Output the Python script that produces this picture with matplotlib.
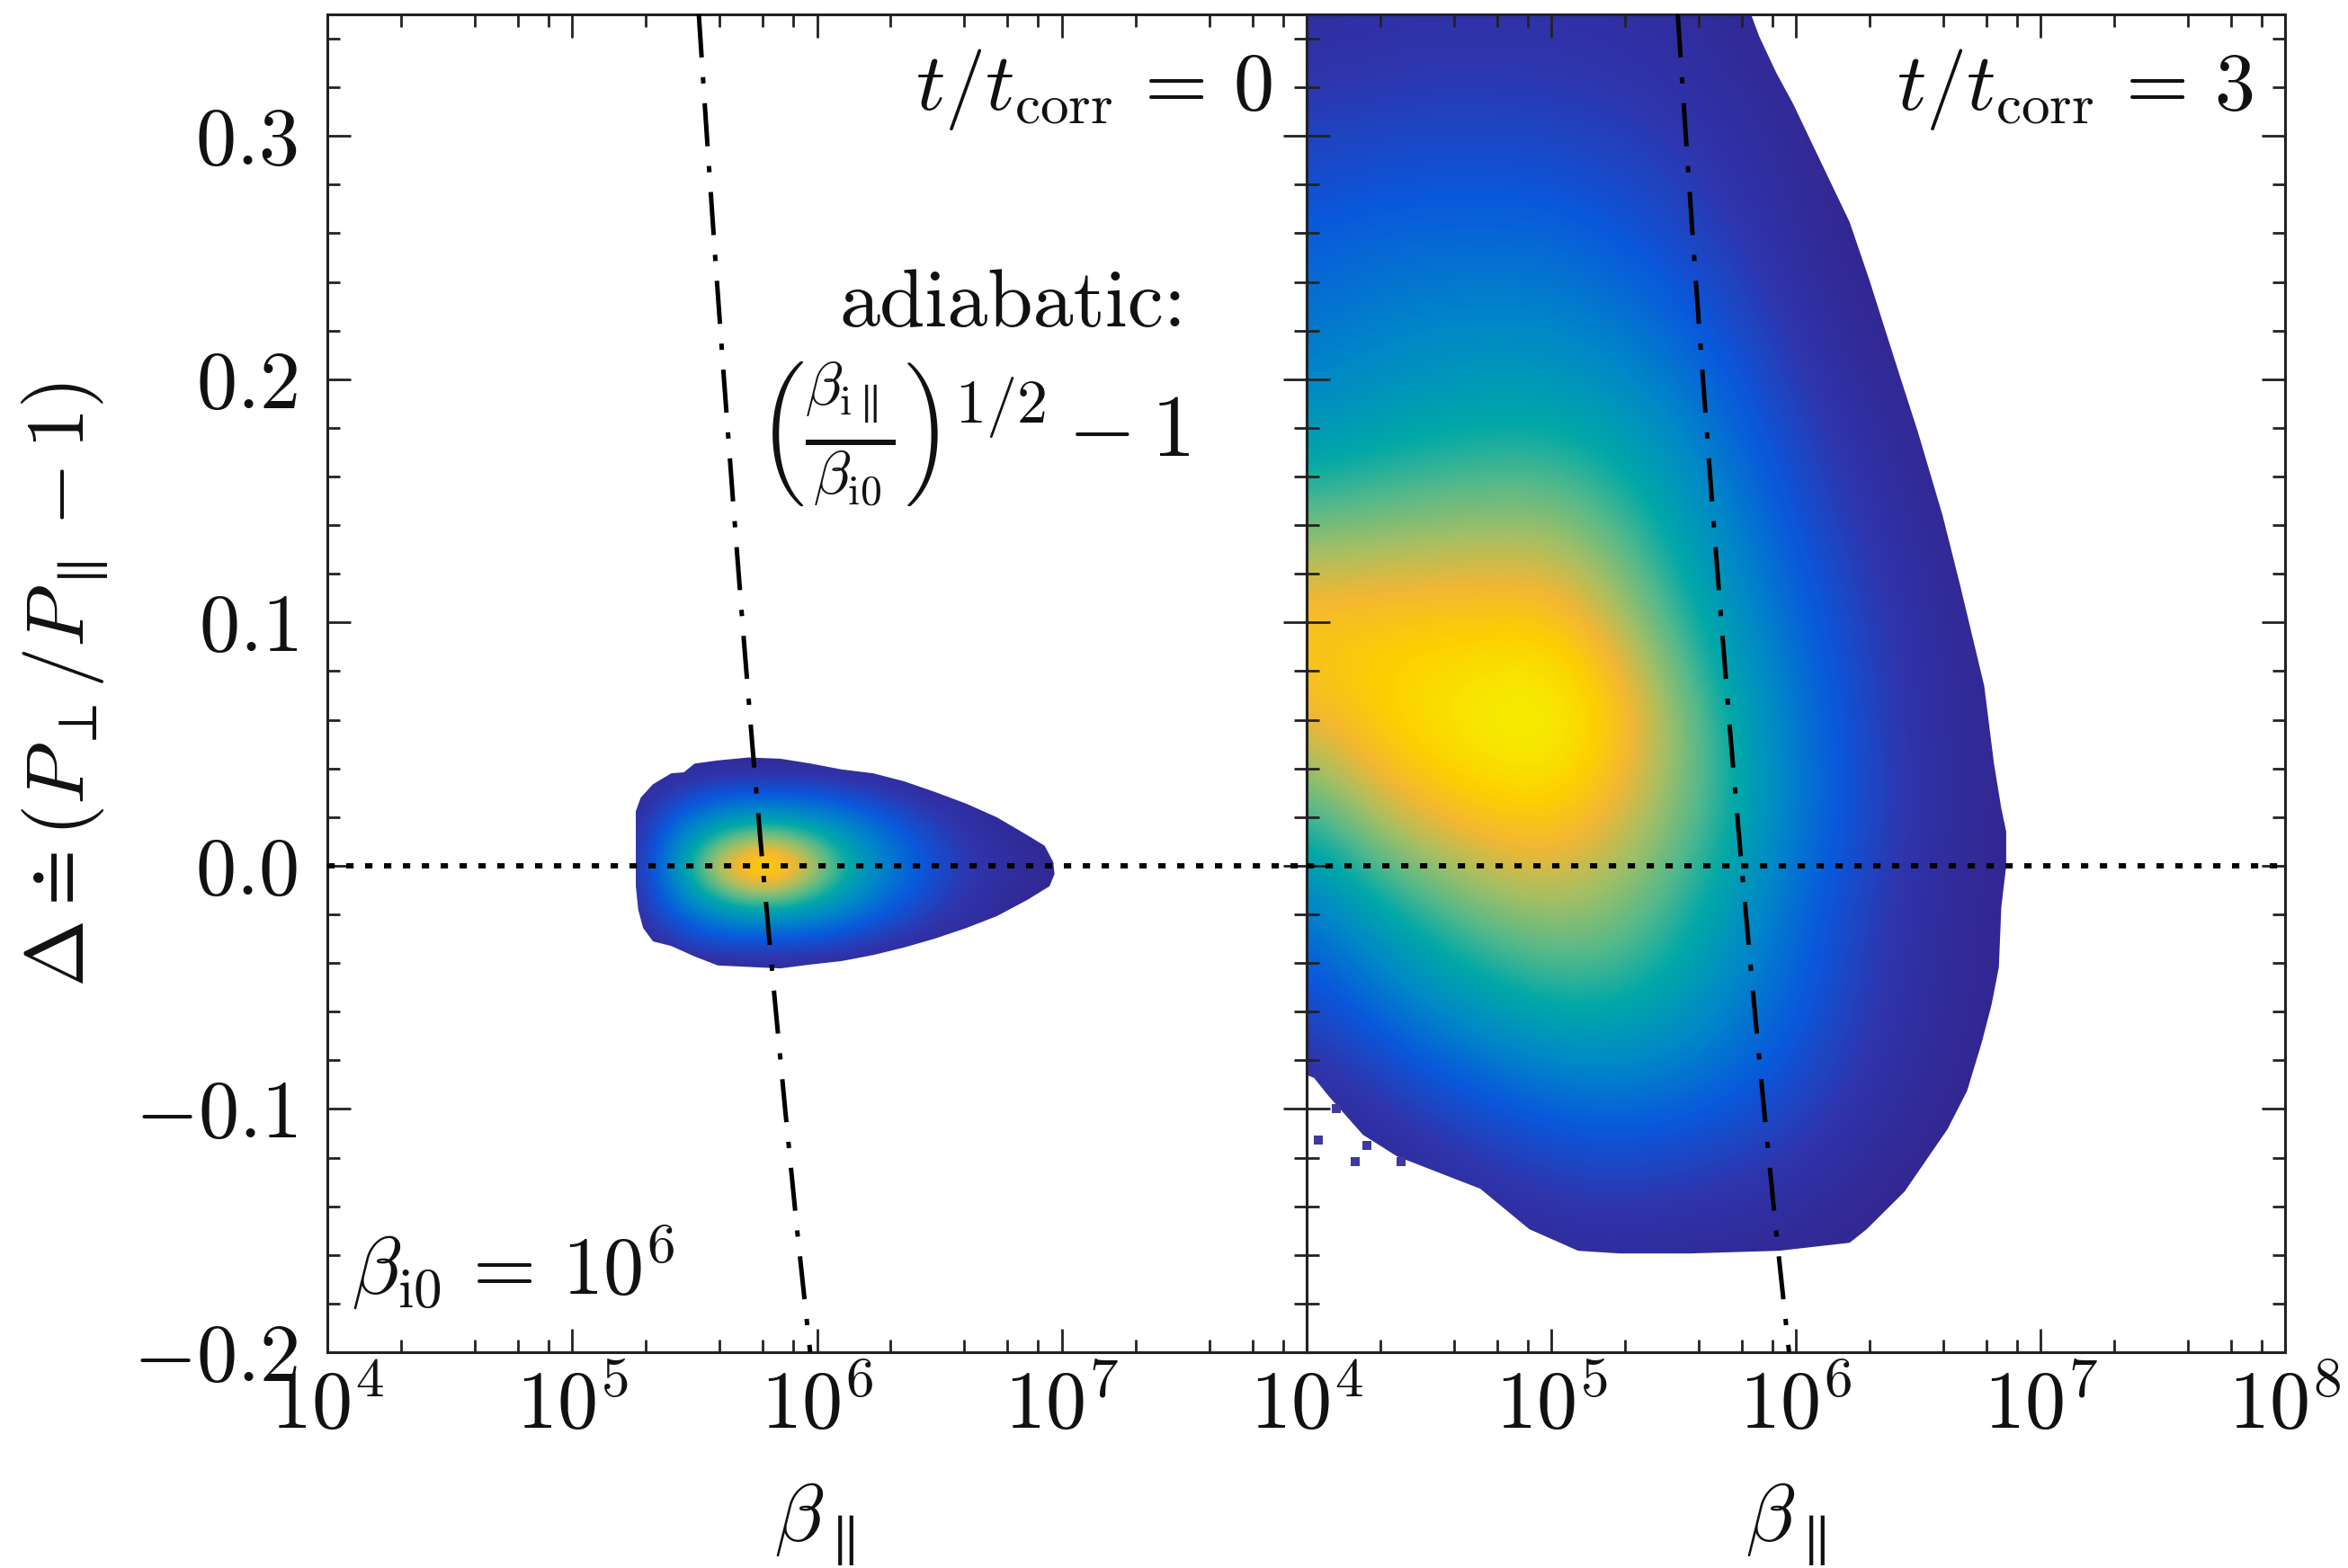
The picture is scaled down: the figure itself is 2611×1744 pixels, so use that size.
import numpy as np
import matplotlib
matplotlib.use('Agg')
import matplotlib.pyplot as plt
from matplotlib.colors import LinearSegmentedColormap
from matplotlib.patches import Polygon
from matplotlib.ticker import FixedLocator, NullFormatter

plt.rcParams['mathtext.fontset'] = 'cm'
plt.rcParams['font.family'] = ['cmr10', 'DejaVu Sans']
plt.rcParams['axes.formatter.use_mathtext'] = True

# density grid, left panel (t=0)
left_logbeta = [5.2, 5.4, 5.6, 5.8, 6.0, 6.2, 6.4, 6.6, 6.8, 7.0]
left_delta = [-0.05, -0.04, -0.03, -0.02, -0.01, 0.0, 0.01, 0.02, 0.03, 0.04, 0.05]
left_density = [
    [0.00, 0.00, 0.00, 0.00, 0.00, 0.00, 0.00, 0.00, 0.00, 0.00],
    [0.00, 0.05, 0.08, 0.08, 0.08, 0.05, 0.02, 0.00, 0.00, 0.00],
    [0.00, 0.14, 0.24, 0.25, 0.23, 0.17, 0.09, 0.04, 0.00, 0.00],
    [0.01, 0.25, 0.40, 0.45, 0.40, 0.30, 0.18, 0.09, 0.03, 0.00],
    [0.02, 0.32, 0.62, 0.78, 0.58, 0.38, 0.25, 0.12, 0.05, 0.00],
    [0.02, 0.36, 0.78, 1.00, 0.72, 0.42, 0.27, 0.14, 0.07, 0.02],
    [0.02, 0.32, 0.62, 0.78, 0.58, 0.38, 0.25, 0.12, 0.05, 0.00],
    [0.01, 0.25, 0.40, 0.45, 0.40, 0.30, 0.18, 0.09, 0.03, 0.00],
    [0.00, 0.14, 0.24, 0.25, 0.23, 0.17, 0.09, 0.04, 0.00, 0.00],
    [0.00, 0.05, 0.08, 0.08, 0.08, 0.05, 0.02, 0.00, 0.00, 0.00],
    [0.00, 0.00, 0.00, 0.00, 0.00, 0.00, 0.00, 0.00, 0.00, 0.00],
]

# outline of the populated region, left panel
left_edge_logbeta = [5.26, 5.26, 5.28, 5.33, 5.405, 5.456, 5.50, 5.595, 5.72, 5.85, 5.975, 6.10, 6.23,
                     6.356, 6.48, 6.61, 6.735, 6.86, 6.93, 6.965, 6.97, 6.95, 6.86, 6.735, 6.61, 6.48,
                     6.356, 6.23, 6.10, 5.975, 5.85, 5.72, 5.595, 5.50, 5.405, 5.33, 5.29, 5.27, 5.26]
left_edge_delta = [0.0, 0.0224, 0.028, 0.0335, 0.038, 0.0384, 0.042, 0.0433, 0.0445, 0.044, 0.042, 0.0396, 0.038,
                   0.0347, 0.0304, 0.0255, 0.0199, 0.0125, 0.0082, 0.0015, -0.0035, -0.0084, -0.014, -0.0207, -0.0256, -0.030,
                   -0.0336, -0.0367, -0.0392, -0.0406, -0.0422, -0.0416, -0.041, -0.0373, -0.033, -0.0311, -0.0256, -0.0182, -0.0084]

# density grid, right panel (t=3)
right_logbeta = [4.0, 4.25, 4.5, 4.75, 5.0, 5.25, 5.5, 5.75, 6.0, 6.25, 6.5, 6.75, 7.0]
right_delta = [-0.18, -0.14, -0.10, -0.06, -0.02, 0.02, 0.06, 0.10, 0.14, 0.18, 0.22, 0.26, 0.30, 0.34, 0.38]
right_density = [
    [0.00, 0.00, 0.00, 0.00, 0.00, 0.00, 0.00, 0.00, 0.00, 0.00, 0.00, 0.00, 0.00],
    [0.00, 0.00, 0.02, 0.06, 0.10, 0.12, 0.10, 0.08, 0.06, 0.02, 0.00, 0.00, 0.00],
    [0.03, 0.08, 0.16, 0.22, 0.27, 0.29, 0.28, 0.24, 0.18, 0.10, 0.04, 0.00, 0.00],
    [0.18, 0.27, 0.37, 0.44, 0.50, 0.50, 0.45, 0.36, 0.27, 0.16, 0.07, 0.02, 0.00],
    [0.32, 0.44, 0.55, 0.64, 0.68, 0.66, 0.56, 0.43, 0.30, 0.18, 0.08, 0.02, 0.00],
    [0.55, 0.70, 0.80, 0.85, 0.87, 0.78, 0.66, 0.52, 0.35, 0.22, 0.10, 0.03, 0.00],
    [0.80, 0.88, 0.94, 0.99, 1.00, 0.90, 0.70, 0.50, 0.34, 0.21, 0.09, 0.03, 0.00],
    [0.87, 0.87, 0.87, 0.87, 0.87, 0.75, 0.58, 0.42, 0.30, 0.18, 0.08, 0.02, 0.00],
    [0.63, 0.65, 0.67, 0.68, 0.68, 0.60, 0.48, 0.36, 0.24, 0.13, 0.05, 0.00, 0.00],
    [0.42, 0.45, 0.48, 0.50, 0.50, 0.46, 0.39, 0.29, 0.18, 0.08, 0.02, 0.00, 0.00],
    [0.33, 0.36, 0.38, 0.39, 0.38, 0.35, 0.29, 0.21, 0.11, 0.03, 0.00, 0.00, 0.00],
    [0.26, 0.28, 0.29, 0.29, 0.29, 0.25, 0.20, 0.13, 0.06, 0.00, 0.00, 0.00, 0.00],
    [0.17, 0.18, 0.19, 0.19, 0.18, 0.16, 0.13, 0.08, 0.04, 0.00, 0.00, 0.00, 0.00],
    [0.08, 0.09, 0.10, 0.10, 0.10, 0.09, 0.07, 0.04, 0.02, 0.00, 0.00, 0.00, 0.00],
    [0.06, 0.07, 0.08, 0.08, 0.08, 0.07, 0.05, 0.03, 0.01, 0.00, 0.00, 0.00, 0.00],
]

# outline, right panel
right_edge_logbeta = [3.9, 5.78, 5.85, 5.92, 5.99, 6.08, 6.22, 6.30, 6.42, 6.50, 6.60, 6.67, 6.77, 6.81, 6.84,
                      6.86, 6.86, 6.84, 6.83, 6.80, 6.76, 6.70, 6.62, 6.445, 6.29, 6.22, 5.93, 5.565, 5.28,
                      5.11, 4.91, 4.71, 4.37, 4.23, 4.09, 4.03, 4.0, 3.9]
right_edge_delta = [0.36, 0.36, 0.341, 0.326, 0.313, 0.294, 0.2646, 0.241, 0.203, 0.178, 0.144, 0.116, 0.074, 0.042, 0.0236,
                    0.014, 0.0, -0.017, -0.0417, -0.0572, -0.0727, -0.0926, -0.1083, -0.1339, -0.1494, -0.155, -0.1583, -0.1594, -0.1594,
                    -0.1583, -0.1494, -0.1328, -0.1195, -0.1106, -0.0947, -0.0872, -0.086, -0.086]

# stray cells under the lower left of the right panel
stray_logbeta = [4.046, 4.245, 4.197, 4.387, 4.12]
stray_delta = [-0.1128, -0.115, -0.1217, -0.1217, -0.1]

# adiabatic curve, beta read per delta
adiabatic_delta = [0.35, 0.30, 0.25, 0.20, 0.15, 0.10, 0.05, 0.0, -0.05, -0.10, -0.15, -0.20]
adiabatic_beta = [3.29e5, 3.55e5, 3.84e5, 4.17e5, 4.54e5, 4.96e5, 5.44e5, 6.0e5, 6.65e5, 7.41e5, 8.30e5, 9.38e5]

yticks = [-0.2, -0.1, 0.0, 0.1, 0.2, 0.3]
ytick_labels = ['$-0.2$', '$-0.1$', '$0.0$', '$0.1$', '$0.2$', '$0.3$']
xticks = [1e4, 1e5, 1e6, 1e7, 1e8]
xtick_labels = ['$10^{4}$', '$10^{5}$', '$10^{6}$', '$10^{7}$', '$10^{8}$']

parula = LinearSegmentedColormap.from_list('parula_like', [
    (0.00, '#33268f'), (0.12, '#2f35ad'), (0.25, '#0a58dc'), (0.38, '#0088c8'),
    (0.50, '#00a8a8'), (0.60, '#55b98a'), (0.70, '#a4bf64'), (0.80, '#f4b732'),
    (0.88, '#fdd000'), (0.97, '#f6f200'), (1.00, '#f6f200')])

W, H = 2611, 1744
FS = 65


def draw_density(rect, logbeta, delta, density, edge_x, edge_y):
    # image sits in its own axes, linear in log10(beta), under the log axes
    back = fig.add_axes(rect, zorder=0)
    back.axis('off')
    dx = (logbeta[1] - logbeta[0]) / 2
    dy = (delta[1] - delta[0]) / 2
    extent = (logbeta[0] - dx, logbeta[-1] + dx, delta[0] - dy, delta[-1] + dy)
    im = back.imshow(density, origin='lower', extent=extent, aspect='auto', cmap=parula, vmin=0, vmax=1,
                     interpolation='bicubic')
    edge = Polygon(np.column_stack([edge_x, edge_y]), closed=True, transform=back.transData, fc='none', ec='none')
    back.add_patch(edge)
    im.set_clip_path(edge)
    back.set_xlim(4, 8)
    back.set_ylim(-0.2, 0.35)


def style_axes(ax):
    ax.set_xscale('log')
    ax.set_xlim(1e4, 1e8)
    ax.set_ylim(-0.2, 0.35)
    ax.patch.set_alpha(0)
    ax.set_xticks(xticks)
    ax.set_xticklabels(xtick_labels, fontsize=FS)
    ax.xaxis.set_minor_locator(FixedLocator([m * 10 ** e for e in range(4, 8) for m in (2, 4, 6, 8)]))
    ax.xaxis.set_minor_formatter(NullFormatter())
    ax.set_yticks(yticks)
    ax.set_yticks(np.arange(-0.18, 0.35, 0.02), minor=True)
    ax.tick_params(which='major', direction='in', top=True, right=True, length=19, width=2.0, color='#222222',
                   labelcolor='#111111')
    ax.tick_params(which='minor', direction='in', top=True, right=True, length=10, width=2.0, color='#222222')
    ax.tick_params(axis='x', which='major', pad=14)
    ax.tick_params(axis='y', which='major', pad=24)
    for s in ax.spines.values():
        s.set_linewidth(2.2)
        s.set_color('#222222')
    ax.axhline(0, color='black', lw=4.2, dashes=(1.4, 2.2), zorder=3)
    ax.plot(adiabatic_beta, adiabatic_delta, color='black', lw=3.6, dashes=(9.6, 4.4, 1.4, 4.4), zorder=3)


fig = plt.figure(figsize=(W / 100, H / 100), dpi=100)
rect1 = [364 / W, 1 - 1504 / H, 1089 / W, 1488 / H]
rect2 = [1453 / W, 1 - 1504 / H, 1088 / W, 1488 / H]

draw_density(rect1, left_logbeta, left_delta, np.array(left_density), left_edge_logbeta, left_edge_delta)
draw_density(rect2, right_logbeta, right_delta, np.array(right_density), right_edge_logbeta, right_edge_delta)

ax1 = fig.add_axes(rect1, zorder=1)
ax2 = fig.add_axes(rect2, zorder=1)
style_axes(ax1)
style_axes(ax2)
ax2.scatter(10 ** np.array(stray_logbeta), stray_delta, s=45, marker='s', color='#3f38a0', lw=0, zorder=1)
ax1.set_yticklabels(ytick_labels, fontsize=FS)
ax2.tick_params(labelleft=False)
ax1.xaxis.get_major_ticks()[-1].label1.set_visible(False)

tc = '#111111'
fig.text(1415 / W, 1 - 122 / H, r'$t/t_{\mathrm{corr}}\,=\,0$', fontsize=FS, ha='right', va='baseline', color=tc)
fig.text(2506 / W, 1 - 122 / H, r'$t/t_{\mathrm{corr}}\,=\,3$', fontsize=FS, ha='right', va='baseline', color=tc)
fig.text(1126 / W, 1 - 363 / H, 'adiabatic:', fontsize=65, ha='center', va='baseline', color=tc)
fig.text(1082 / W, 1 - 483 / H, r'$\left(\frac{\beta_{\mathrm{i}\parallel}}{\beta_{\mathrm{i0}}}\right)^{1/2}-1$',
         fontsize=70, ha='center', va='center', color=tc)
fig.text(391 / W, 1 - 1440 / H, r'$\beta_{\mathrm{i0}}\,=\,10^{6}$', fontsize=FS, ha='left', va='baseline', color=tc)
fig.text(72 / W, 1 - 762 / H, r'$\Delta\doteq(P_{\perp}/P_{\parallel}-1)$', fontsize=FS, rotation=90,
         ha='center', va='center', color=tc)
fig.text(905 / W, 1 - 1695 / H, r'$\beta_{\parallel}$', fontsize=FS, ha='center', va='center', color=tc)
fig.text(1985 / W, 1 - 1695 / H, r'$\beta_{\parallel}$', fontsize=FS, ha='center', va='center', color=tc)

fig.savefig('out.png', dpi=100)
